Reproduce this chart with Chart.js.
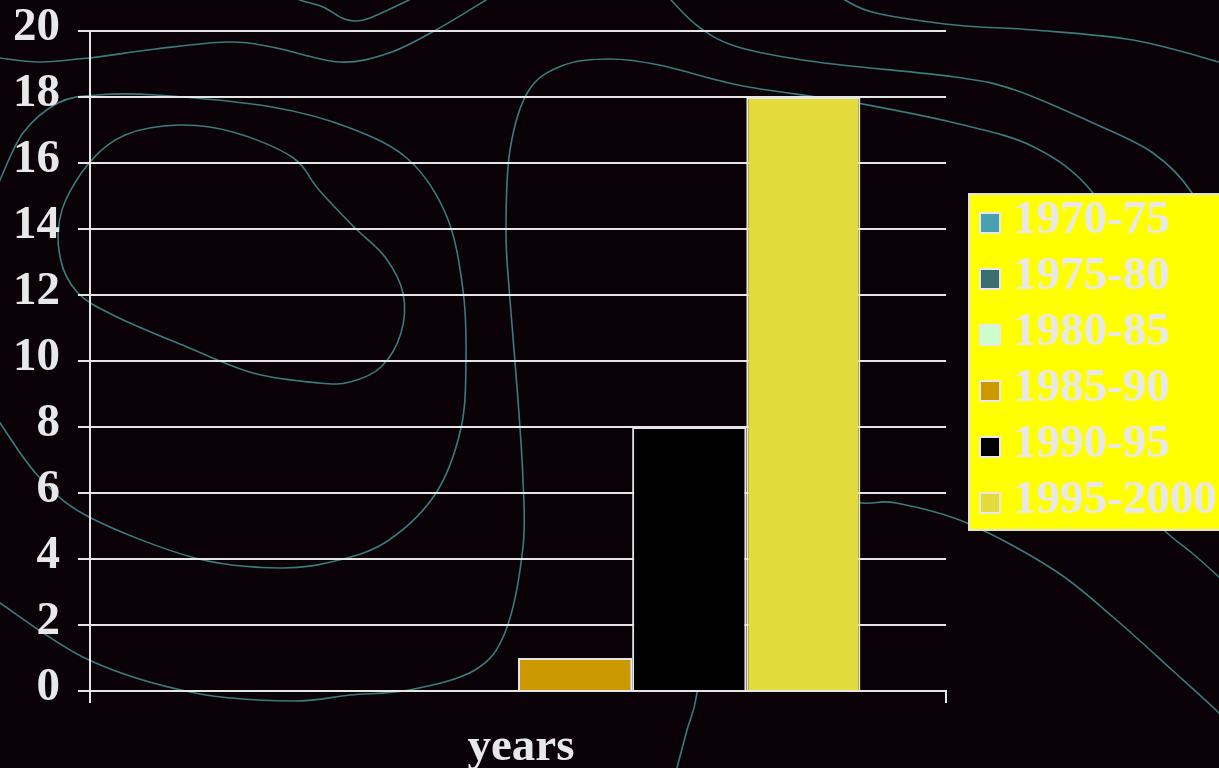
<!DOCTYPE html>
<html>
<head>
<meta charset="utf-8">
<script src="https://cdn.jsdelivr.net/npm/chart.js@4"></script>
<style>
  html, body { margin: 0; padding: 0; background: #0a0207; overflow: hidden; }
  #wrap { width: 1219px; height: 768px; }
</style>
</head>
<body>
<div id="wrap"><canvas id="myChart" width="1219" height="768"></canvas></div>
<script>
// Chart data
const categories = ['years'];
const seriesLabels = ['1970-75', '1975-80', '1980-85', '1985-90', '1990-95', '1995-2000'];
const seriesValues = [0, 0, 0, 1, 8, 18];
const seriesColors = ['#4a9fb0', '#3b6f6f', '#ccffcc', '#cc9900', '#000000', '#e3da3b'];
const yMin = 0, yMax = 20, yStep = 2;

const FONT = '"Liberation Serif", "Times New Roman", serif';
const TEXT = '#e8e8e8';
const LINE = '#e6e6e6';

// background contour decoration (not data)
const contours = [
    [[290, -6], [300, 0], [323, 7], [342, 18], [354, 21], [370, 18], [409, 0], [420, -6]],
    [[-6, 57], [0, 58], [39, 62], [89, 58], [156, 49], [226, 42], [272, 47], [339, 62], [389, 53], [436, 30], [486, 0], [495, -6]],
    [[-6, 192], [0, 180], [23, 133], [58, 103], [97, 95], [156, 95], [272, 107], [350, 128], [409, 160], [447, 217], [463, 290], [466, 360], [461, 428], [436, 493], [389, 540], [339, 560], [280, 568], [195, 558], [89, 517], [39, 477], [0, 423], [-6, 414]],
    [[-6, 598], [0, 603], [89, 660], [195, 693], [292, 701], [350, 695], [409, 690], [475, 670], [506, 630], [523, 547], [523, 480], [518, 400], [510, 300], [506, 233], [510, 150], [529, 90], [564, 65], [610, 59], [659, 65], [738, 85], [817, 97], [857, 103], [955, 123], [1034, 147], [1093, 193], [1140, 280]],
    [[665, -8], [671, 0], [699, 27], [738, 47], [817, 62], [955, 77], [1015, 90], [1093, 123], [1153, 153], [1192, 193], [1210, 240]],
    [[838, -6], [845, 0], [876, 13], [955, 25], [1034, 30], [1133, 40], [1219, 62], [1232, 67]],
    [[800, 495], [862, 503], [896, 503], [967, 523], [1054, 570], [1113, 617], [1172, 670], [1219, 713], [1230, 727]],
    [[1130, 495], [1166, 532], [1192, 553], [1219, 577], [1232, 590]],
    [[706, 600], [697, 693], [687, 730], [677, 768], [674, 782]]
];
const innerLoop = [[89, 163], [125, 135], [179, 125], [233, 132], [292, 157], [319, 190], [354, 227], [385, 257], [403, 293], [401, 333], [381, 367], [350, 382], [319, 383], [253, 373], [187, 347], [117, 317], [78, 293], [60, 257], [62, 210]];

function smoothPath(ctx, pts, closed) {
    const n = pts.length;
    const get = i => closed ? pts[(i + n) % n] : pts[Math.max(0, Math.min(n - 1, i))];
    ctx.moveTo(pts[0][0], pts[0][1]);
    const last = closed ? n : n - 1;
    for (let i = 0; i < last; i++) {
        const p0 = get(i - 1), p1 = get(i), p2 = get(i + 1), p3 = get(i + 2);
        ctx.bezierCurveTo(
            p1[0] + (p2[0] - p0[0]) / 6, p1[1] + (p2[1] - p0[1]) / 6,
            p2[0] - (p3[0] - p1[0]) / 6, p2[1] - (p3[1] - p1[1]) / 6,
            p2[0], p2[1]);
    }
}

const backdrop = {
    id: 'backdrop',
    beforeDraw(chart) {
        const ctx = chart.ctx;
        ctx.save();
        ctx.fillStyle = '#0a0207';
        ctx.fillRect(0, 0, chart.width, chart.height);
        ctx.strokeStyle = '#3b7b7b';
        ctx.lineWidth = 1.6;
        contours.forEach(c => { ctx.beginPath(); smoothPath(ctx, c, false); ctx.stroke(); });
        ctx.beginPath(); smoothPath(ctx, innerLoop, true); ctx.stroke();
        ctx.restore();
    }
};

const yellowLegend = {
    id: 'yellowLegend',
    afterDraw(chart) {
        const ctx = chart.ctx;
        ctx.save();
        ctx.fillStyle = '#ffff00';
        ctx.fillRect(968, 193, 260, 338);
        ctx.strokeStyle = '#e0e0e0';
        ctx.lineWidth = 2;
        ctx.strokeRect(969, 194, 270, 336);
        ctx.font = 'bold 47px ' + FONT;
        ctx.textBaseline = 'middle';
        ctx.textAlign = 'left';
        chart.data.datasets.forEach((ds, i) => {
            const cy = 223 + i * 56;
            ctx.fillStyle = ds.backgroundColor;
            ctx.fillRect(980, cy - 10, 20, 20);
            ctx.strokeStyle = TEXT;
            ctx.lineWidth = 2;
            ctx.strokeRect(980, cy - 10, 20, 20);
            ctx.fillStyle = TEXT;
            ctx.fillText(ds.label, 1013, cy - 2);
        });
        ctx.restore();
    }
};

const ctx = document.getElementById('myChart').getContext('2d');
const myChart = new Chart(ctx, {
    type: 'bar',
    data: {
        labels: categories,
        datasets: seriesLabels.map((label, i) => ({
            label: label,
            data: [seriesValues[i]],
            backgroundColor: seriesColors[i],
            borderColor: LINE,
            borderWidth: 2
        }))
    },
    options: {
        responsive: false,
        animation: false,
        layout: { padding: { left: 0, right: 273, top: 31, bottom: 0 } },
        datasets: { bar: { categoryPercentage: 0.8, barPercentage: 1.0 } },
        plugins: {
            legend: { display: false },
            tooltip: { enabled: false }
        },
        scales: {
            x: {
                grid: { drawOnChartArea: false, color: LINE, lineWidth: 2, tickLength: 12 },
                border: { color: LINE, width: 2 },
                ticks: { color: TEXT, padding: 17, labelOffset: 3, font: { family: FONT, size: 47, weight: 'bold' } },
                afterFit(scale) { scale.height = 77; }
            },
            y: {
                min: yMin,
                max: yMax,
                grid: { color: LINE, lineWidth: 2, tickLength: 12 },
                border: { color: LINE, width: 2 },
                ticks: { stepSize: yStep, color: TEXT, padding: 18, labelOffset: -3, font: { family: FONT, size: 47, weight: 'bold' } },
                afterFit(scale) {
                    scale.width = 90;
                    scale.paddingTop = 0;
                    scale.paddingBottom = 0;
                }
            }
        }
    },
    plugins: [backdrop, yellowLegend]
});
</script>
</body>
</html>
